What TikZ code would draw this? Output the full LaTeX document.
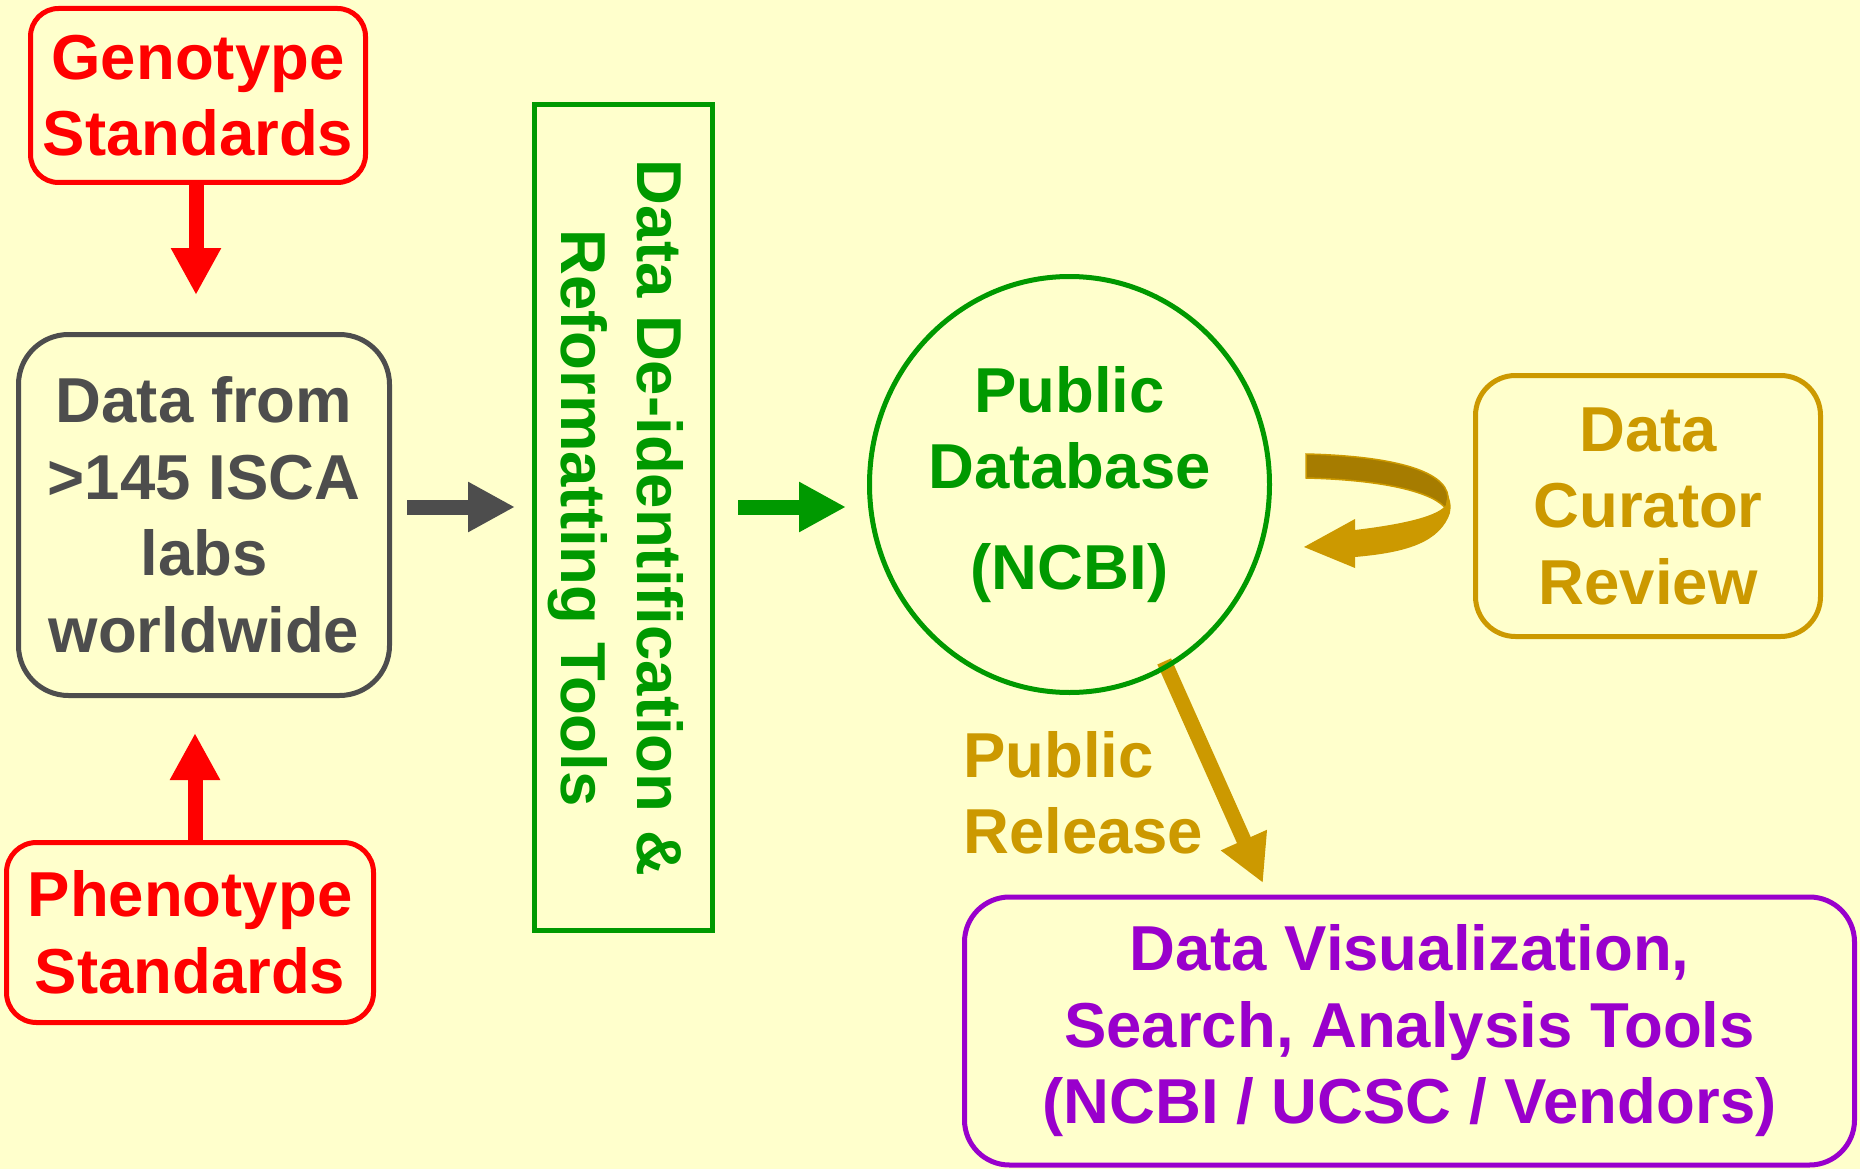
\documentclass[tikz,border=0pt]{standalone}
\usepackage{fontspec}
\setmainfont{Liberation Sans}
\usetikzlibrary{arrows.meta,shapes.geometric,calc}
\definecolor{bgc}{HTML}{FFFFCC}
\definecolor{redc}{HTML}{FF0000}
\definecolor{greyc}{HTML}{4D4D4D}
\definecolor{greenc}{HTML}{009900}
\definecolor{goldc}{HTML}{CC9900}
\definecolor{darkgoldc}{HTML}{A67C00}
\definecolor{purplec}{HTML}{9900CC}
\newcommand\diagfont{\fontsize{63.5}{76.5}\selectfont\bfseries}
\pgfdeclarelayer{background}
\pgfsetlayers{background,main}
\tikzset{
  rbox/.style={draw, line width=5pt, rounded corners=#1, align=center, inner sep=0pt, font=\diagfont},
  fat/.style={line width=15pt, -{Triangle[length=47pt,width=47pt]}},
}
\begin{document}
\begin{tikzpicture}[x=1pt,y=-1pt]
\begin{pgfonlayer}{background}
\fill[bgc] (0,0) rectangle (1860,1169);
\end{pgfonlayer}
\useasboundingbox (0,0) rectangle (1860,1169);

% nodes
\node[rbox=28pt, draw=redc, text=redc, minimum width=335pt, minimum height=174pt] (geno) at (198,95.5) {Genotype\\Standards};
\node[rbox=30pt, draw=redc, text=redc, minimum width=367pt, minimum height=180pt] (pheno) at (190,932.5) {Phenotype\\Standards};
\node[rbox=50pt, draw=greyc, text=greyc, minimum width=371pt, minimum height=361pt] (data) at (204,515) {Data from\\>145 ISCA\\labs\\worldwide};
\node[draw=greenc, line width=5pt, minimum width=178pt, minimum height=826pt, inner sep=0pt] (deid) at (623.5,517.5) {};
\node[rotate=-90, text=greenc, font=\diagfont, align=center, inner sep=0pt] (deidtxt) at (616,518) {Data De-identification \&\\Reformatting Tools};
\node[ellipse, draw=greenc, line width=5pt, minimum width=400pt, minimum height=416pt, inner sep=0pt, text=greenc, align=center, font=\diagfont] (circ) at (1069.5,484.5) {Public\\Database\\[24pt](NCBI)};
\node[rbox=40pt, draw=goldc, text=goldc, minimum width=345pt, minimum height=261pt] (cur) at (1648,506) {Data\\Curator\\Review};
\node[rbox=45pt, draw=purplec, text=purplec, minimum width=890pt, minimum height=268pt] (vis) at (1409.5,1031) {Data Visualization,\\Search, Analysis Tools\\(NCBI / UCSC / Vendors)};
\node[text=goldc, font=\diagfont, align=left, inner sep=0pt, anchor=west] (rel) at (963,793) {Public\\Release};

% connectors
\draw[fat, redc, shorten >=37pt] ($(geno.south)+(-2,0)$) -- ($(geno.south |- data.north)+(-2,0)$);
\draw[fat, redc, shorten >=35pt] ($(pheno.north)+(5,0)$) -- ($(pheno.north |- data.south)+(5,0)$);
\draw[fat, greyc, shorten <=15pt, shorten >=17pt] ($(data.east)+(0,-8)$) -- ($(data.east -| deid.west)+(0,-8)$);
\draw[fat, greenc, shorten <=23pt, shorten >=21pt] ($(deid.east)+(0,-10.5)$) -- ($(deid.east -| circ.west)+(0,-10.5)$);
\coordinate (reltip) at (1263,883);
\begin{pgfonlayer}{background}
\draw[fat, goldc, shorten <=-8pt] (circ.-62) -- (reltip);
\end{pgfonlayer}

% curved ribbon arrow (curator review loop)
\fill[darkgoldc, draw=goldc, line width=1.5pt]
  (1306,454) .. controls (1390,456) and (1446,470) .. (1448,497)
  -- (1446,509) .. controls (1436,494) and (1390,480) .. (1306,478) -- cycle;
\fill[goldc]
  (1355,530) .. controls (1405,524) and (1438,516) .. (1446,505)
  -- (1448,495) .. controls (1452,505) and (1451,512) .. (1448,518)
  .. controls (1435,545) and (1400,553) .. (1355,557)
  -- (1355,568) -- (1304,547) -- (1355,519) -- cycle;
\end{tikzpicture}
\end{document}
